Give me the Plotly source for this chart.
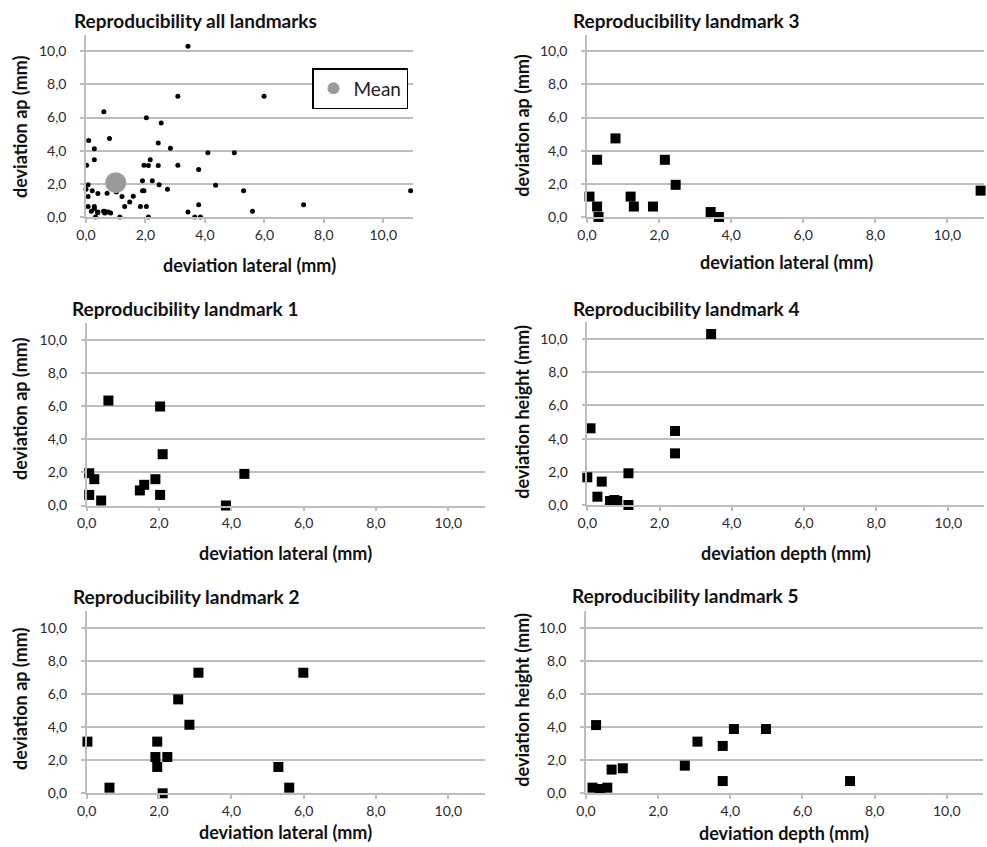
import plotly.graph_objects as go

W, H = 987, 847

# ---- data ----
lm1_lateral = [0.07, 0.07, 0.21, 0.40, 0.60, 1.47, 1.59, 1.90, 2.03, 2.03, 2.10, 3.85, 4.36]
lm1_ap      = [1.95, 0.64, 1.59, 0.30, 6.34, 0.91, 1.25, 1.59, 5.98, 0.64, 3.10, 0.00, 1.91]

lm2_lateral = [0.02, 0.63, 1.90, 1.95, 1.95, 2.10, 2.23, 2.53, 2.84, 3.09, 5.30, 5.60, 5.99]
lm2_ap      = [3.12, 0.34, 2.19, 3.12, 1.59, 0.00, 2.19, 5.67, 4.14, 7.28, 1.59, 0.34, 7.28]

lm3_lateral = [0.07, 0.28, 0.28, 0.32, 0.79, 1.21, 1.30, 1.83, 2.16, 2.46, 3.43, 3.66, 10.92]
lm3_ap      = [1.23, 0.63, 3.45, 0.00, 4.74, 1.23, 0.63, 0.63, 3.45, 1.94, 0.30, 0.00, 1.59]

lm4_depth  = [0.00, 0.09, 0.28, 0.40, 0.63, 0.75, 0.83, 1.14, 1.14, 2.43, 2.43, 3.43]
lm4_height = [1.67, 4.62, 0.50, 1.41, 0.24, 0.30, 0.24, 1.91, 0.00, 4.46, 3.11, 10.30]

lm5_depth  = [0.18, 0.28, 0.39, 0.59, 0.71, 1.02, 2.74, 3.09, 3.79, 3.79, 4.10, 4.99, 7.32]
lm5_height = [0.34, 4.12, 0.26, 0.34, 1.43, 1.51, 1.67, 3.12, 2.86, 0.74, 3.88, 3.88, 0.74]

mean_x = [1.0]
mean_y = [2.07]

tick_vals = [0, 2, 4, 6, 8, 10]
axis_range = [0, 11]

all_x = lm1_lateral + lm2_lateral + lm3_lateral + lm4_depth + lm5_depth
all_y = lm1_ap + lm2_ap + lm3_ap + lm4_height + lm5_height

# ---- layout helpers ----
def px(x, y):
    return x / W, (H - y) / H

# panel plot areas in pixels: (left, right, bottom(y=0), top(y=11))
panels = {
    "all": (86, 413, 217, 34.6),
    "lm3": (587, 983.5, 217, 34.6),
    "lm1": (86.7, 484.5, 505.5, 323.4),
    "lm4": (587.3, 984.4, 505, 322.4),
    "lm2": (86.7, 484.5, 793.3, 611.1),
    "lm5": (586, 982.8, 793.3, 611.1),
}
order = ["all", "lm3", "lm1", "lm4", "lm2", "lm5"]

FONT = "Lato"
fig = go.Figure()

grid_col = "#bdbdbd"
tick_font = dict(family=FONT, size=14, color="#2a2a2a")

layout = dict(
    width=W, height=H,
    margin=dict(l=0, r=0, t=0, b=0, autoexpand=False),
    paper_bgcolor="white", plot_bgcolor="white",
    separators=",.",
    font=dict(family=FONT),
)

for i, key in enumerate(order):
    l, r, b, t = panels[key]
    x0, y0 = px(l, b)
    x1, y1 = px(r, t)
    sfx = "" if i == 0 else str(i + 1)
    layout["xaxis" + sfx] = dict(
        domain=[x0, x1], range=axis_range, tickvals=tick_vals, tickformat=".1f",
        showgrid=False, zeroline=False, showline=True, linecolor=grid_col, linewidth=1.5,
        ticks="outside", ticklen=4, tickcolor=grid_col, tickwidth=1.5,
        tickfont=tick_font, anchor="y" + sfx, fixedrange=True, automargin=False,
    )
    layout["yaxis" + sfx] = dict(
        domain=[y0, y1], range=axis_range, tickvals=tick_vals, tickformat=".1f",
        showgrid=True, gridcolor=grid_col, gridwidth=1.5, zeroline=False,
        showline=True, linecolor=grid_col, linewidth=1.5,
        ticks="outside", ticklen=4, tickcolor=grid_col, tickwidth=1.5,
        tickfont=tick_font, ticklabelstandoff=11, anchor="x" + sfx, fixedrange=True,
        automargin=False,
    )

def add(xs, ys, idx, **kw):
    sfx = "" if idx == 0 else str(idx + 1)
    fig.add_trace(go.Scatter(x=xs, y=ys, mode="markers", xaxis="x" + sfx, yaxis="y" + sfx,
                             cliponaxis=False, **kw))

add(all_x, all_y, 0, marker=dict(color="black", size=5), showlegend=False, hoverinfo="x+y")
add(mean_x, mean_y, 0, name="Mean", marker=dict(color="#9a9a9a", size=21), showlegend=True)
sq = dict(color="black", size=10, symbol="square")
add(lm3_lateral, lm3_ap, 1, marker=sq, showlegend=False)
add(lm1_lateral, lm1_ap, 2, marker=sq, showlegend=False)
add(lm4_depth, lm4_height, 3, marker=sq, showlegend=False)
add(lm2_lateral, lm2_ap, 4, marker=sq, showlegend=False)
add(lm5_depth, lm5_height, 5, marker=sq, showlegend=False)

lx, ly = px(312, 68)
layout["legend"] = dict(x=lx, y=ly, xanchor="left", yanchor="top", bgcolor="white",
                        bordercolor="black", borderwidth=1.5,
                        font=dict(family=FONT, size=19, color="#222222"),
                        itemsizing="constant", itemwidth=30,
                        tracegroupgap=0)

annotations = []
def text(x, y, s, size, xanchor="center", angle=0):
    ax, ay = px(x, y)
    annotations.append(dict(x=ax, y=ay, xref="paper", yref="paper", text="<b>" + s + "</b>",
                            showarrow=False, xanchor=xanchor, yanchor="middle", textangle=angle,
                            font=dict(family=FONT, size=size, color="#111111")))

titles = [
    (72, 20, "Reproducibility all landmarks"),
    (570.7, 20.7, "Reproducibility landmark 3"),
    (70, 308, "Reproducibility landmark 1"),
    (570.7, 308, "Reproducibility landmark 4"),
    (70.7, 596.7, "Reproducibility landmark 2"),
    (570, 595.7, "Reproducibility landmark 5"),
]
for x, y, s in titles:
    text(x, y, s, 19, xanchor="left")

xtitles = [
    (249.5, 265, "deviation lateral (mm)"),
    (786.7, 261.7, "deviation lateral (mm)"),
    (285.6, 553, "deviation lateral (mm)"),
    (786, 553, "deviation depth (mm)"),
    (285.6, 831.7, "deviation lateral (mm)"),
    (784.4, 833.3, "deviation depth (mm)"),
]
for x, y, s in xtitles:
    text(x, y, s, 18)

ytitles = [
    (20, 127, "deviation ap (mm)"),
    (521.7, 125, "deviation ap (mm)"),
    (20, 409, "deviation ap (mm)"),
    (521.7, 412, "deviation height (mm)"),
    (20, 699, "deviation ap (mm)"),
    (521.7, 700, "deviation height (mm)"),
]
for x, y, s in ytitles:
    text(x, y, s, 18, angle=-90)

layout["annotations"] = annotations
fig.update_layout(**layout)
fig.write_html("out.html", config={"displayModeBar": False},
               post_script="document.body.style.margin='0';document.body.style.overflow='hidden';")
